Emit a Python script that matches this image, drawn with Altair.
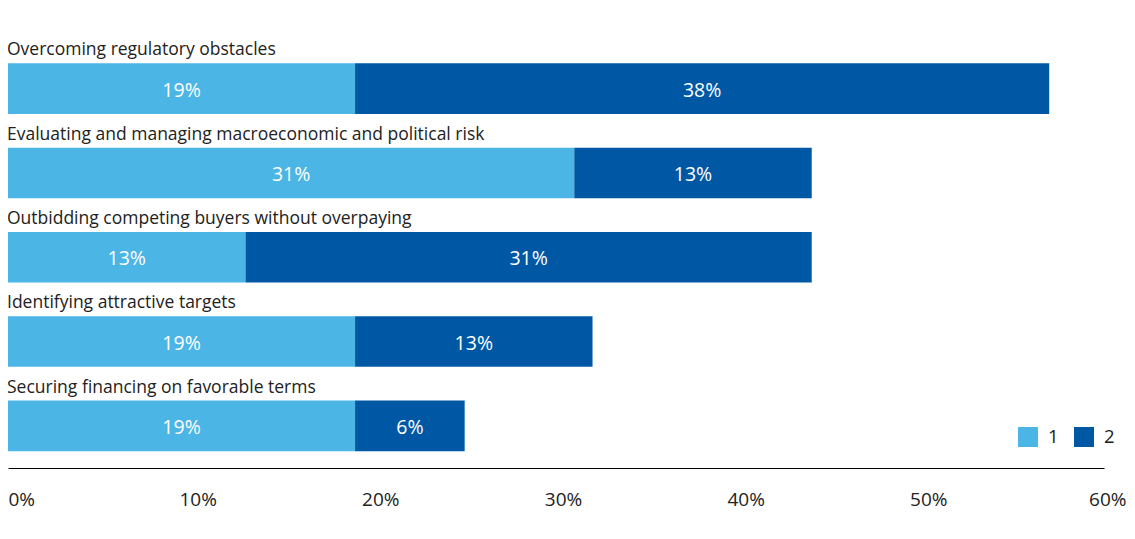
import altair as alt
import pandas as pd

categories = [
    "Overcoming regulatory obstacles",
    "Evaluating and managing macroeconomic and political risk",
    "Outbidding competing buyers without overpaying",
    "Identifying attractive targets",
    "Securing financing on favorable terms",
]
series_names = ["1", "2"]
series1 = [19, 31, 13, 19, 19]
series2 = [38, 13, 31, 13, 6]
colors = ["#4BB5E6", "#0058A5"]
x_ticks = [0, 10, 20, 30, 40, 50, 60]

rows = []
for i, c in enumerate(categories):
    rows.append({"category": c, "series": series_names[0], "value": series1[i], "order": 0})
    rows.append({"category": c, "series": series_names[1], "value": series2[i], "order": 1})
df = pd.DataFrame(rows)
cat_df = pd.DataFrame({"category": categories})

FONT = "Open Sans"
W = 1096
H = 421.5

yenc = alt.Y("category:N", sort=categories,
             scale=alt.Scale(paddingInner=0.4, paddingOuter=0.2), axis=None)
xscale = alt.Scale(domain=[0, 60], nice=False, zero=True)

base = alt.Chart(df).transform_stack(
    stack="value", groupby=["category"], as_=["v0", "v1"],
    sort=[alt.SortField("order", order="ascending")]
).transform_calculate(
    mid="(datum.v0 + datum.v1) / 2",
    label="datum.value + '%'"
)

label_align = {
    "condition": [
        {"test": "datum.value == 0", "value": "left"},
        {"test": "datum.value == 60", "value": "right"},
    ],
    "value": "center",
}
label_offset = {
    "condition": [
        {"test": "datum.value == 0", "value": 0},
        {"test": "datum.value == 60", "value": 22},
    ],
    "value": 7,
}

bars = base.mark_bar(strokeWidth=0).encode(
    x=alt.X("v0:Q", scale=xscale, title=None,
            axis=alt.Axis(values=x_ticks, labelExpr="datum.value + '%'",
                          grid=False, ticks=False, tickSize=0,
                          domainColor="#000000", domainWidth=1,
                          labelFontSize=19, labelFont=FONT, labelColor="#222222",
                          labelPadding=31, labelOffset=label_offset,
                          labelAlign=label_align, labelFlush=False,
                          labelBaseline="middle")),
    x2="v1:Q",
    y=yenc,
    color=alt.Color("series:N",
                    scale=alt.Scale(domain=series_names, range=colors),
                    legend=alt.Legend(title=None, orient="none", direction="horizontal",
                                      legendX=1010, legendY=380.5,
                                      symbolType="square", symbolSize=400,
                                      symbolStrokeWidth=0, labelFontSize=18.5,
                                      labelFont=FONT, labelColor="#222222",
                                      labelOffset=10, columnPadding=15, padding=0)),
    order=alt.Order("order:Q"),
)

values = base.mark_text(color="white", fontSize=19.5, font=FONT, baseline="middle", dy=2).encode(
    x=alt.X("mid:Q", scale=xscale),
    y=yenc,
    text="label:N",
)

cat_labels = alt.Chart(cat_df).mark_text(
    align="left", baseline="alphabetic", dy=-33.2, fontSize=17.5, font=FONT, color="#222222"
).encode(
    x=alt.value(-1),
    y=yenc,
    text="category:N",
)

chart = alt.layer(bars, values, cat_labels).properties(
    width=W, height=H,
    autosize=alt.AutoSizeParams(type="none"),
    padding={"left": 0, "top": 38.5, "right": 23, "bottom": 50},
).configure_view(stroke=None)

chart.save("out.html", embed_options={"renderer": "svg", "actions": False})
